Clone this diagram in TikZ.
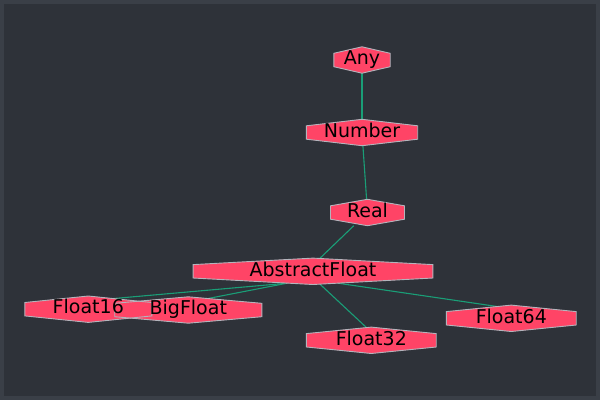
\documentclass[tikz,border=0pt]{standalone}
\usepackage{fontspec}
\setmainfont{DejaVu Sans}
\usepackage{xcolor}

\definecolor{bgdark}{HTML}{2E3239}
\definecolor{bgframe}{HTML}{3A3F47}
\definecolor{typered}{HTML}{FF4466}
\definecolor{typeline}{HTML}{B4B4BC}
\definecolor{subline}{HTML}{1A9E77}

\pgfdeclarelayer{bg}
\pgfdeclarelayer{edges}
\pgfdeclarelayer{fills}
\pgfdeclarelayer{outlines}
\pgfsetlayers{bg,edges,fills,outlines,main}

\begin{document}
\begin{tikzpicture}[x=1pt, y=-1pt,
    hexpath/.style={insert path={([yshift=6.7pt]\hexname.west) -- (\hexname.north) -- ([yshift=6.7pt]\hexname.east)
          -- ([yshift=-6.7pt]\hexname.east) -- (\hexname.south) -- ([yshift=-6.7pt]\hexname.west) -- cycle}},
    typenode/.style={inner sep=0pt, minimum width=#1, minimum height=26pt,
      text height=13pt, text depth=3.6pt, font=\fontsize{19}{21}\selectfont,
      append after command={\pgfextra{\let\hexname\tikzlastnode
        \begin{pgfonlayer}{fills}\fill[typered, hexpath];\end{pgfonlayer}
        \begin{pgfonlayer}{outlines}\draw[typeline, line width=0.9pt, hexpath];\end{pgfonlayer}}}},
    subtype/.style={draw=subline, line width=1.1pt}]

  \begin{pgfonlayer}{bg}
    \fill[bgframe] (0,0) rectangle (600,400);
    \fill[bgdark] (4,4) rectangle (596,396);
  \end{pgfonlayer}

  \node[typenode=56pt] (Any) at (362,60) {Any};
  \node[typenode=111pt] (Number) at (362,132.5) {Number};
  \node[typenode=73.6pt] (Real) at (367.5,212.5) {Real};
  \node[typenode=239.4pt] (AbstractFloat) at (313,271.3) {AbstractFloat};
  \node[typenode=126.6pt] (Float16) at (88.3,309.2) {Float16};
  \node[typenode=146.8pt] (BigFloat) at (188.3,310) {BigFloat};
  \node[typenode=129.4pt] (Float32) at (371.3,340.3) {Float32};
  \node[typenode=129.4pt] (Float64) at (511.3,318.3) {Float64};

  \begin{pgfonlayer}{edges}
    \draw[subtype] (Any) -- (Number);
    \draw[subtype] (Number) -- (Real);
    \draw[subtype] (Real) -- ([xshift=-6.6pt]AbstractFloat.center);
    \draw[subtype] ([shift={(-26,-1.3)}]AbstractFloat.south) -- ([shift={(12,-9.5)}]Float16.center);
    \draw[subtype] ([shift={(-26,-1.3)}]AbstractFloat.south) -- ([shift={(12,-10)}]BigFloat.center);
    \draw[subtype] ([shift={(7,-0.3)}]AbstractFloat.south) -- ([shift={(3.5,-5)}]Float32.center);
    \draw[subtype] ([shift={(25,-1.3)}]AbstractFloat.south) -- ([shift={(-6,-10.6)}]Float64.center);
  \end{pgfonlayer}
\end{tikzpicture}
\end{document}
